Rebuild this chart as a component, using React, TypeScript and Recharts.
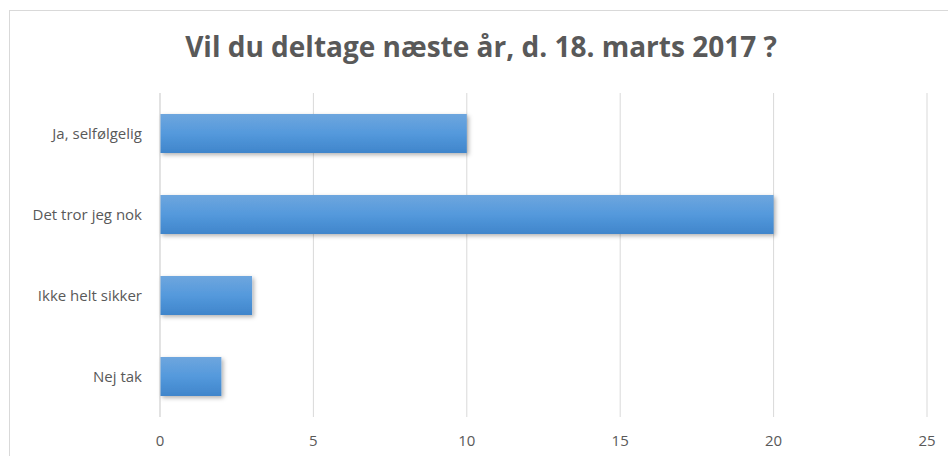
import { BarChart, Bar, XAxis, YAxis, CartesianGrid } from 'recharts';

const TITLE = 'Vil du deltage næste år, d. 18. marts 2017 ?';
const categories = ['Ja, selfølgelig', 'Det tror jeg nok', 'Ikke helt sikker', 'Nej tak'];
const answers = [10, 20, 3, 2];
const xTicks = [0, 5, 10, 15, 20, 25];

const data = categories.map((name, i) => ({ name, value: answers[i] }));

const FONT = '"Open Sans", "Noto Sans", sans-serif';
const TEXT = '#595959';

if (typeof document !== 'undefined') {
  document.body.style.margin = '0';
  document.body.style.overflow = 'hidden';
}

export default function App() {
  return (
    <div style={{ position: 'relative', width: 948, height: 456, overflow: 'hidden', background: '#fff', fontFamily: FONT }}>
      <div style={{ position: 'absolute', left: 9, top: 10, width: 970, height: 480, border: '1px solid #d9d9d9' }} />
      <div
        style={{
          position: 'absolute', left: 0, top: 28, width: 962, textAlign: 'center',
          fontSize: 28, fontWeight: 700, color: TEXT, lineHeight: '36px',
        }}
      >
        {TITLE}
      </div>
      <div style={{ position: 'absolute', left: 0, top: 0 }}>
        <BarChart
          width={948}
          height={456}
          data={data}
          layout="vertical"
          margin={{ top: 93, right: 21, bottom: 0, left: 0 }}
          barCategoryGap="26%"
        >
          <defs>
            <linearGradient id="barFill" x1="0" y1="0" x2="0" y2="1">
              <stop offset="0%" stopColor="#6ea6de" />
              <stop offset="50%" stopColor="#5499dc" />
              <stop offset="100%" stopColor="#3f85cb" />
            </linearGradient>
            <filter id="barShadow" x="-10%" y="-20%" width="130%" height="160%">
              <feDropShadow dx="2" dy="2" stdDeviation="2" floodColor="#000" floodOpacity="0.3" />
            </filter>
          </defs>
          <CartesianGrid horizontal={false} stroke="#d9d9d9" strokeWidth={1} />
          <XAxis
            type="number"
            domain={[0, 25]}
            ticks={xTicks}
            axisLine={false}
            tickLine={false}
            height={39}
            tickMargin={12}
            tick={{ fill: TEXT, fontSize: 15, fontFamily: FONT }}
          />
          <YAxis
            type="category"
            dataKey="name"
            width={160}
            axisLine={{ stroke: '#d9d9d9' }}
            tickLine={false}
            tickMargin={12}
            tick={{ fill: TEXT, fontSize: 15, fontFamily: FONT }}
          />
          <Bar dataKey="value" fill="url(#barFill)" filter="url(#barShadow)" isAnimationActive={false} />
        </BarChart>
      </div>
    </div>
  );
}
